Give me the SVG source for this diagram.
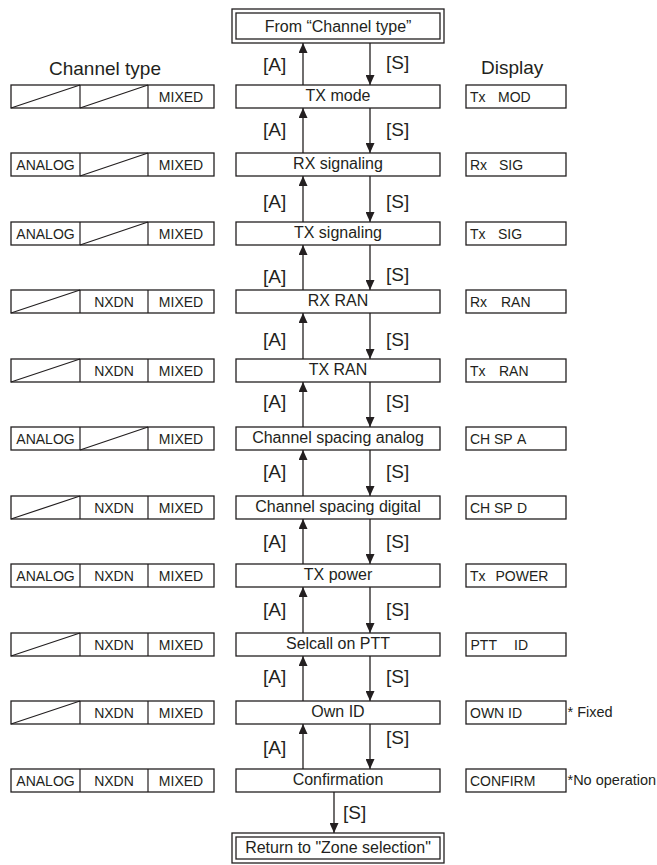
<svg xmlns="http://www.w3.org/2000/svg" width="657" height="865" viewBox="0 0 657 865">
<style>
.bx{fill:#fff;stroke:#231f20;stroke-width:1.3}
.ln{fill:none;stroke:#231f20;stroke-width:1.2}
.t{font-family:"Liberation Sans",Arial,sans-serif;fill:#231f20}
.m{font-size:16px;text-anchor:middle}
.c{font-size:14px;text-anchor:middle}
.d{font-size:14px}
.h{font-size:19px}
.k{font-size:19px}
.n{font-size:14.5px}
.ar{fill:none;stroke:#231f20;stroke-width:1.3}
</style>
<defs>
<marker id="ah" viewBox="0 0 10 9" refX="10" refY="4.5" markerWidth="10" markerHeight="9" markerUnits="userSpaceOnUse" orient="auto">
<path d="M0,0 L10,4.5 L0,9 z" fill="#231f20"/>
</marker>
</defs>
<rect width="657" height="865" fill="#fff"/>
<text class="t h" x="49" y="75">Channel type</text>
<text class="t h" x="481" y="74">Display</text>
<g id="from">
<rect class="bx" x="232" y="9" width="212" height="34"/>
<rect class="bx" x="236" y="13" width="204" height="26"/>
<text class="t m" x="338" y="31.5">From “Channel type”</text>
</g>
<g id="return">
<rect class="bx" x="232" y="833" width="212" height="30"/>
<rect class="bx" x="236" y="837" width="204" height="22"/>
<text class="t m" x="338" y="853">Return to "Zone selection"</text>
</g>
<g id="row1">
<rect class="bx" x="236" y="85" width="204" height="23"/><text class="t m" x="338" y="101">TX mode</text>
<rect class="bx" x="11" y="85" width="203" height="23"/><path class="ln" d="M80,85V108M148,85V108M11,108L80,85M80,108L148,85"/>
<text class="t c" x="181" y="102">MIXED</text>
<rect class="bx" x="466" y="85" width="100" height="23"/><text class="t d" y="102"><tspan x="470">Tx</tspan><tspan x="498">MOD</tspan></text>
</g>
<g id="row2">
<rect class="bx" x="236" y="153" width="204" height="23"/><text class="t m" x="338" y="169">RX signaling</text>
<rect class="bx" x="11" y="153" width="203" height="23"/><path class="ln" d="M80,153V176M148,153V176M80,176L148,153"/>
<text class="t c" x="45.5" y="170">ANALOG</text><text class="t c" x="181" y="170">MIXED</text>
<rect class="bx" x="466" y="153" width="100" height="23"/><text class="t d" y="170"><tspan x="470">Rx</tspan><tspan x="499">SIG</tspan></text>
</g>
<g id="row3">
<rect class="bx" x="236" y="222" width="204" height="23"/><text class="t m" x="338" y="238">TX signaling</text>
<rect class="bx" x="11" y="222" width="203" height="23"/><path class="ln" d="M80,222V245M148,222V245M80,245L148,222"/>
<text class="t c" x="45.5" y="239">ANALOG</text><text class="t c" x="181" y="239">MIXED</text>
<rect class="bx" x="466" y="222" width="100" height="23"/><text class="t d" y="239"><tspan x="470">Tx</tspan><tspan x="498">SIG</tspan></text>
</g>
<g id="row4">
<rect class="bx" x="236" y="290" width="204" height="23"/><text class="t m" x="338" y="306">RX RAN</text>
<rect class="bx" x="11" y="290" width="203" height="23"/><path class="ln" d="M80,290V313M148,290V313M11,313L80,290"/>
<text class="t c" x="114" y="307">NXDN</text><text class="t c" x="181" y="307">MIXED</text>
<rect class="bx" x="466" y="290" width="100" height="23"/><text class="t d" y="307"><tspan x="470">Rx</tspan><tspan x="501">RAN</tspan></text>
</g>
<g id="row5">
<rect class="bx" x="236" y="359" width="204" height="23"/><text class="t m" x="338" y="375">TX RAN</text>
<rect class="bx" x="11" y="359" width="203" height="23"/><path class="ln" d="M80,359V382M148,359V382M11,382L80,359"/>
<text class="t c" x="114" y="376">NXDN</text><text class="t c" x="181" y="376">MIXED</text>
<rect class="bx" x="466" y="359" width="100" height="23"/><text class="t d" y="376"><tspan x="470">Tx</tspan><tspan x="499">RAN</tspan></text>
</g>
<g id="row6">
<rect class="bx" x="236" y="427" width="204" height="23"/><text class="t m" x="338" y="443">Channel spacing analog</text>
<rect class="bx" x="11" y="427" width="203" height="23"/><path class="ln" d="M80,427V450M148,427V450M80,450L148,427"/>
<text class="t c" x="45.5" y="444">ANALOG</text><text class="t c" x="181" y="444">MIXED</text>
<rect class="bx" x="466" y="427" width="100" height="23"/><text class="t d" y="444"><tspan x="470">CH</tspan><tspan x="494">SP</tspan><tspan x="517">A</tspan></text>
</g>
<g id="row7">
<rect class="bx" x="236" y="496" width="204" height="23"/><text class="t m" x="338" y="512">Channel spacing digital</text>
<rect class="bx" x="11" y="496" width="203" height="23"/><path class="ln" d="M80,496V519M148,496V519M11,519L80,496"/>
<text class="t c" x="114" y="513">NXDN</text><text class="t c" x="181" y="513">MIXED</text>
<rect class="bx" x="466" y="496" width="100" height="23"/><text class="t d" y="513"><tspan x="470">CH</tspan><tspan x="494">SP</tspan><tspan x="517">D</tspan></text>
</g>
<g id="row8">
<rect class="bx" x="236" y="564" width="204" height="23"/><text class="t m" x="338" y="580">TX power</text>
<rect class="bx" x="11" y="564" width="203" height="23"/><path class="ln" d="M80,564V587M148,564V587"/>
<text class="t c" x="45.5" y="581">ANALOG</text><text class="t c" x="114" y="581">NXDN</text><text class="t c" x="181" y="581">MIXED</text>
<rect class="bx" x="466" y="564" width="100" height="23"/><text class="t d" y="581"><tspan x="470">Tx</tspan><tspan x="495.5">POWER</tspan></text>
</g>
<g id="row9">
<rect class="bx" x="236" y="633" width="204" height="23"/><text class="t m" x="338" y="649">Selcall on PTT</text>
<rect class="bx" x="11" y="633" width="203" height="23"/><path class="ln" d="M80,633V656M148,633V656M11,656L80,633"/>
<text class="t c" x="114" y="650">NXDN</text><text class="t c" x="181" y="650">MIXED</text>
<rect class="bx" x="466" y="633" width="100" height="23"/><text class="t d" y="650"><tspan x="470.5">PTT</tspan><tspan x="514">ID</tspan></text>
</g>
<g id="row10">
<rect class="bx" x="236" y="701" width="204" height="23"/><text class="t m" x="338" y="717">Own ID</text>
<rect class="bx" x="11" y="701" width="203" height="23"/><path class="ln" d="M80,701V724M148,701V724M11,724L80,701"/>
<text class="t c" x="114" y="718">NXDN</text><text class="t c" x="181" y="718">MIXED</text>
<rect class="bx" x="466" y="701" width="100" height="23"/><text class="t d" y="718"><tspan x="470">OWN</tspan><tspan x="508">ID</tspan></text>
<text class="t n" x="567.5" y="717">* Fixed</text>
</g>
<g id="row11">
<rect class="bx" x="236" y="769" width="204" height="23"/><text class="t m" x="338" y="785">Confirmation</text>
<rect class="bx" x="11" y="769" width="203" height="23"/><path class="ln" d="M80,769V792M148,769V792"/>
<text class="t c" x="45.5" y="786">ANALOG</text><text class="t c" x="114" y="786">NXDN</text><text class="t c" x="181" y="786">MIXED</text>
<rect class="bx" x="466" y="769" width="100" height="23"/><text class="t d" x="470" y="786">CONFIRM</text>
<text class="t n" x="567.5" y="785">*No operation</text>
</g>
<g id="connectors">
<path class="ar" marker-end="url(#ah)" d="M303,85V43"/><path class="ar" marker-end="url(#ah)" d="M370,43V85"/>
<path class="ar" marker-end="url(#ah)" d="M303,153V108"/><path class="ar" marker-end="url(#ah)" d="M370,108V153"/>
<path class="ar" marker-end="url(#ah)" d="M303,222V176"/><path class="ar" marker-end="url(#ah)" d="M370,176V222"/>
<path class="ar" marker-end="url(#ah)" d="M303,290V245"/><path class="ar" marker-end="url(#ah)" d="M370,245V290"/>
<path class="ar" marker-end="url(#ah)" d="M303,359V313"/><path class="ar" marker-end="url(#ah)" d="M370,313V359"/>
<path class="ar" marker-end="url(#ah)" d="M303,427V382"/><path class="ar" marker-end="url(#ah)" d="M370,382V427"/>
<path class="ar" marker-end="url(#ah)" d="M303,496V450"/><path class="ar" marker-end="url(#ah)" d="M370,450V496"/>
<path class="ar" marker-end="url(#ah)" d="M303,564V519"/><path class="ar" marker-end="url(#ah)" d="M370,519V564"/>
<path class="ar" marker-end="url(#ah)" d="M303,633V587"/><path class="ar" marker-end="url(#ah)" d="M370,587V633"/>
<path class="ar" marker-end="url(#ah)" d="M303,701V656"/><path class="ar" marker-end="url(#ah)" d="M370,656V701"/>
<path class="ar" marker-end="url(#ah)" d="M303,769V724"/><path class="ar" marker-end="url(#ah)" d="M370,724V769"/>
<path class="ar" marker-end="url(#ah)" d="M334,792V833"/>
<text class="t k" x="263" y="71">[A]</text><text class="t k" x="386" y="69">[S]</text>
<text class="t k" x="263" y="136">[A]</text><text class="t k" x="386" y="136">[S]</text>
<text class="t k" x="263" y="208">[A]</text><text class="t k" x="386" y="208">[S]</text>
<text class="t k" x="263" y="283">[A]</text><text class="t k" x="386" y="281">[S]</text>
<text class="t k" x="263" y="346">[A]</text><text class="t k" x="386" y="346">[S]</text>
<text class="t k" x="263" y="408">[A]</text><text class="t k" x="386" y="408">[S]</text>
<text class="t k" x="263" y="478">[A]</text><text class="t k" x="386" y="478">[S]</text>
<text class="t k" x="263" y="548">[A]</text><text class="t k" x="386" y="548">[S]</text>
<text class="t k" x="263" y="616">[A]</text><text class="t k" x="386" y="616">[S]</text>
<text class="t k" x="263" y="683">[A]</text><text class="t k" x="386" y="683">[S]</text>
<text class="t k" x="263" y="754">[A]</text><text class="t k" x="386" y="744">[S]</text>
<text class="t k" x="343" y="819">[S]</text>
</g>
</svg>
